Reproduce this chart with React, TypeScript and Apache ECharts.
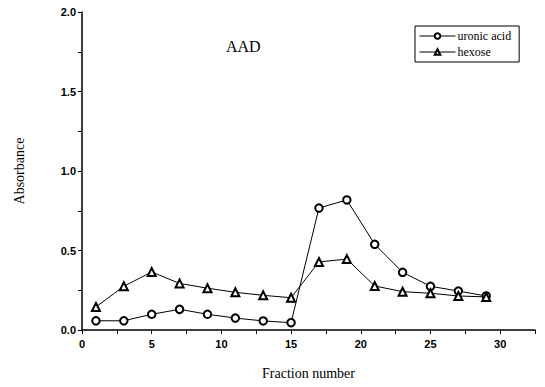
import React, { useEffect, useRef } from "react";
import * as echarts from "echarts";

const fractions = [1, 3, 5, 7, 9, 11, 13, 15, 17, 19, 21, 23, 25, 27, 29];
const uronicAcid = [0.058, 0.058, 0.099, 0.13, 0.099, 0.075, 0.057, 0.046, 0.767, 0.818, 0.539, 0.363, 0.275, 0.245, 0.214];
const hexose = [0.145, 0.275, 0.365, 0.293, 0.263, 0.237, 0.218, 0.203, 0.428, 0.446, 0.277, 0.241, 0.231, 0.214, 0.208];
const seriesNames = ["uronic acid", "hexose"];
const chartTitle = "AAD";

export default function App() {
  const ref = useRef<HTMLDivElement>(null);
  useEffect(() => {
    if (!ref.current) return;
    const chart = echarts.init(ref.current, null, { renderer: "svg" });
    const serif = "'Liberation Serif', 'Times New Roman', serif";
    const sans = "'Liberation Sans', Arial, sans-serif";
    chart.setOption({
      animation: false,
      backgroundColor: "#fff",
      title: {
        text: chartTitle,
        left: 221,
        top: 33,
        textStyle: { fontFamily: serif, fontSize: 16, fontWeight: "normal", color: "#000" },
      },
      legend: {
        orient: "vertical",
        left: 415,
        top: 26,
        padding: [4, 8, 4, 4],
        itemGap: 4,
        itemWidth: 36,
        itemHeight: 7,
        borderColor: "#000",
        borderWidth: 1,
        borderRadius: 0,
        lineStyle: { width: 1 },
        itemStyle: { borderWidth: 1 },
        textStyle: { fontFamily: serif, fontSize: 12, color: "#000", padding: [0, 0, 0, -3] },
        data: seriesNames,
      },
      grid: { left: 82, right: 10, top: 12, bottom: 57, containLabel: false },
      xAxis: {
        type: "value",
        min: 0,
        max: 32.5,
        interval: 2.5,
        name: "Fraction number",
        nameLocation: "middle",
        nameGap: 36,
        nameTextStyle: { fontFamily: serif, fontSize: 14, color: "#000" },
        axisLine: { lineStyle: { color: "#000", width: 1.5 } },
        axisTick: { inside: false, length: 4, lineStyle: { color: "#000" } },
        axisLabel: {
          fontFamily: sans,
          fontWeight: "bold",
          fontSize: 11,
          color: "#000",
          margin: 8,
          formatter: (v: number) => (Math.abs(v % 5) < 1e-9 && v <= 30 ? String(v) : ""),
        },
        splitLine: { show: false },
      },
      yAxis: {
        type: "value",
        min: 0,
        max: 2,
        interval: 0.25,
        name: "Absorbance",
        nameLocation: "middle",
        nameGap: 56,
        nameRotate: 90,
        nameTextStyle: { fontFamily: serif, fontSize: 14, color: "#000" },
        axisLine: { show: true, lineStyle: { color: "#000", width: 1.5 } },
        axisTick: { show: true, inside: false, length: 4, lineStyle: { color: "#000" } },
        axisLabel: {
          fontFamily: sans,
          fontWeight: "bold",
          fontSize: 11,
          color: "#000",
          margin: 6,
          formatter: (v: number) => (Math.abs((v * 2) % 1) < 1e-9 ? v.toFixed(1) : ""),
        },
        splitLine: { show: false },
      },
      series: [
        {
          name: seriesNames[0],
          type: "line",
          data: fractions.map((f, i) => [f, uronicAcid[i]]),
          symbol: "emptyCircle",
          symbolSize: 7.5,
          lineStyle: { color: "#000", width: 1 },
          itemStyle: { color: "#000", borderColor: "#000", borderWidth: 1 },
        },
        {
          name: seriesNames[1],
          type: "line",
          data: fractions.map((f, i) => [f, hexose[i]]),
          symbol: "emptyTriangle",
          symbolSize: 8,
          lineStyle: { color: "#000", width: 1 },
          itemStyle: { color: "#000", borderColor: "#000", borderWidth: 1 },
        },
      ],
    });
    return () => chart.dispose();
  }, []);
  return <div ref={ref} style={{ width: 545, height: 387, position: "absolute", left: 0, top: 0 }} />;
}
